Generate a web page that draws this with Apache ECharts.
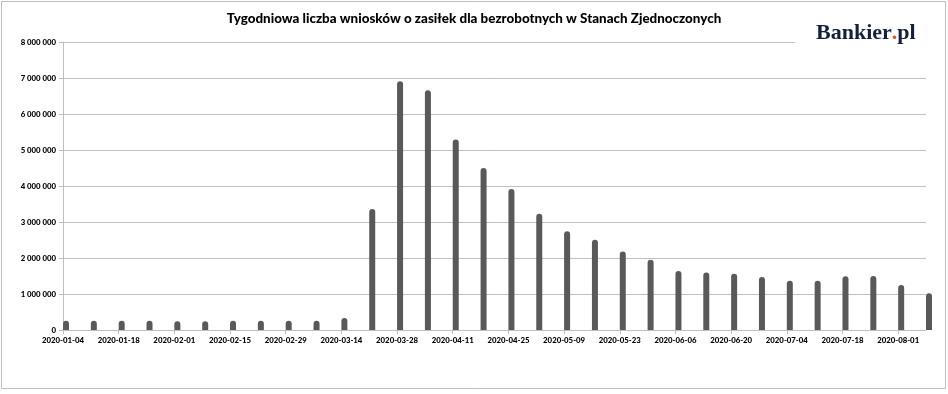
<!DOCTYPE html>
<html><head><meta charset="utf-8">
<script src="https://cdn.jsdelivr.net/npm/echarts@6/dist/echarts.min.js"></script>
<style>html,body{margin:0;padding:0;background:#fff}#c{width:948px;height:394px}</style>
</head><body><div id="c"></div>
<script>
const categories = ['2020-01-04','2020-01-11','2020-01-18','2020-01-25','2020-02-01','2020-02-08','2020-02-15','2020-02-22','2020-02-29','2020-03-07','2020-03-14','2020-03-21','2020-03-28','2020-04-04','2020-04-11','2020-04-18','2020-04-25','2020-05-02','2020-05-09','2020-05-16','2020-05-23','2020-05-30','2020-06-06','2020-06-13','2020-06-20','2020-06-27','2020-07-04','2020-07-11','2020-07-18','2020-07-25','2020-08-01','2020-08-08'];
const claims = [260000,258000,258000,256000,240000,240000,256000,255000,256000,255000,335000,3360000,6910000,6660000,5290000,4500000,3920000,3230000,2740000,2510000,2180000,1950000,1640000,1600000,1560000,1470000,1370000,1370000,1490000,1500000,1250000,1020000];
const offsetSpacer = categories.map(() => null);
const yTicks = [0,1000000,2000000,3000000,4000000,5000000,6000000,7000000,8000000];
const title = 'Tygodniowa liczba wniosków o zasiłek dla bezrobotnych w Stanach Zjednoczonych';

const fmt = v => String(v).replace(/\B(?=(\d{3})+(?!\d))/g, ' ');
const chart = echarts.init(document.getElementById('c'), null, {renderer:'canvas'});
chart.setOption({
  animation:false,
  backgroundColor:'#fff',
  title:{text:title,left:'center',top:7,textStyle:{fontFamily:'Lato',fontWeight:900,fontSize:13.4,color:'#000'}},
  grid:{left:63,right:22,top:42,bottom:64,containLabel:false},
  xAxis:{type:'category',data:categories,boundaryGap:false,
    axisLine:{lineStyle:{color:'#bfbfbf',width:1}},
    axisTick:{interval:1,length:4,lineStyle:{color:'#bfbfbf'}},
    axisLabel:{interval:1,fontFamily:'Lato',fontWeight:900,fontSize:7.8,color:'#000',margin:6},
    splitLine:{show:false}},
  yAxis:{type:'value',min:yTicks[0],max:yTicks[yTicks.length-1],interval:1000000,
    axisLine:{show:true,lineStyle:{color:'#bfbfbf'}},
    axisTick:{show:true,length:4,lineStyle:{color:'#bfbfbf'}},
    axisLabel:{formatter:fmt,fontFamily:'Lato',fontWeight:900,fontSize:7.8,color:'#000',margin:7},
    splitLine:{lineStyle:{color:'#c0c0c0',width:1}}},
  series:[
    {type:'bar',data:offsetSpacer,barWidth:6,barGap:'0%',silent:true},
    {type:'bar',data:claims,barWidth:6,barGap:'0%',itemStyle:{color:'#595959',borderRadius:[3,3,0,0]}}
  ],
  graphic:[
    {type:'rect',left:795,top:28,shape:{width:134,height:24},style:{fill:'#fff'},z:100},
    {type:'text',left:816,top:22,z:101,style:{rich:{
        a:{fontFamily:'Liberation Serif',fontWeight:'bold',fontSize:22,fill:'#14213d'},
        d:{fontFamily:'Liberation Serif',fontWeight:'bold',fontSize:22,fill:'#e8541e'}},
      text:'{a|Bankier}{d|.}{a|pl}'}},
    {type:'rect',shape:{x:1.5,y:1.5,width:944,height:387},style:{fill:null,stroke:'#bfbfbf',lineWidth:1},z:100}
  ]
});
</script></body></html>
